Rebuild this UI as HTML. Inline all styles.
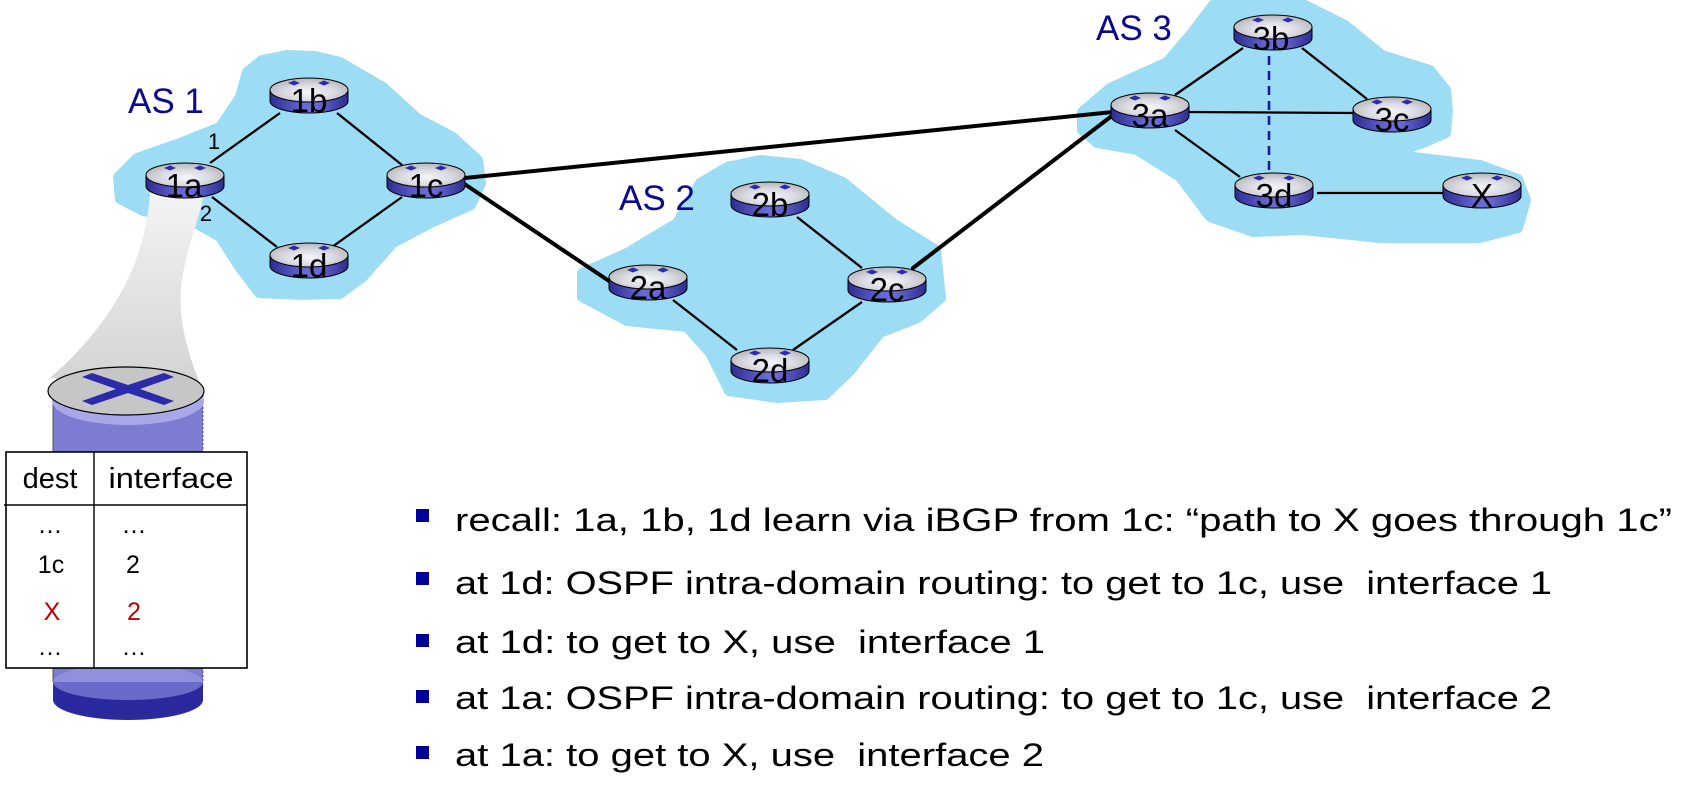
<!DOCTYPE html>
<html>
<head>
<meta charset="utf-8">
<style>
  html,body{margin:0;padding:0;background:#fff;}
  svg{display:block;}
  .lbl{font-family:"Liberation Sans",Arial,sans-serif;font-size:33px;fill:#000;text-anchor:middle;}
  .as{font-family:"Liberation Sans",Arial,sans-serif;font-size:35px;fill:#0a0a8a;}
  .bt{font-family:"Liberation Sans",Arial,sans-serif;font-size:32px;fill:#000;white-space:pre;}
  .tb{font-family:"Liberation Sans",Arial,sans-serif;font-size:29px;fill:#000;text-anchor:middle;}
  .tr{font-family:"Liberation Sans",Arial,sans-serif;font-size:25px;text-anchor:middle;}
</style>
</head>
<body>
<svg width="1691" height="786" viewBox="0 0 1691 786" xmlns="http://www.w3.org/2000/svg">
  <defs>
    <linearGradient id="side" x1="0" y1="0" x2="1" y2="0">
      <stop offset="0" stop-color="#2c2c92"/>
      <stop offset="0.45" stop-color="#6a6ad6"/>
      <stop offset="0.6" stop-color="#6a6ad6"/>
      <stop offset="1" stop-color="#2c2c92"/>
    </linearGradient>
    <radialGradient id="topg" cx="0.5" cy="0.6" r="0.6">
      <stop offset="0" stop-color="#f4f4fa"/>
      <stop offset="0.5" stop-color="#dcdce4"/>
      <stop offset="1" stop-color="#b4b4b8"/>
    </radialGradient>
    <linearGradient id="spot" x1="0" y1="0" x2="0" y2="1">
      <stop offset="0" stop-color="#f4f4f4"/>
      <stop offset="1" stop-color="#d2d2d2"/>
    </linearGradient>
    <linearGradient id="bdisc" x1="0" y1="0" x2="0" y2="1">
      <stop offset="0" stop-color="#9090dc"/>
      <stop offset="0.5" stop-color="#9090dc"/>
      <stop offset="0.5" stop-color="#6a6acb"/>
      <stop offset="1" stop-color="#6a6acb"/>
    </linearGradient>
    <g id="router">
      <path d="M-39,12 L-39,23 A39,12 0 0 0 39,23 L39,12 Z" fill="url(#side)" stroke="#000" stroke-width="1"/>
      <ellipse cx="0" cy="12" rx="39" ry="12" fill="url(#topg)" stroke="#000" stroke-width="1"/>
      <polygon points="-21,5 -15,2.5 -9,5 -15,7.5" fill="#2a2ab0"/>
      <polygon points="9,5 15,2.5 21,5 15,7.5" fill="#2a2ab0"/>
    </g>
  </defs>

  <rect width="1691" height="786" fill="#fff"/>

  <!-- clouds -->
  <g fill="#9cdcf4" stroke="#9cdcf4" stroke-width="10" stroke-linejoin="round">
    <polygon points="247,72 262,60 287,55 315,56 340,62 383,87 417,118 453,137 478,160 481,183 471,205 433,222 393,243 363,277 340,294 300,295 259,293 240,268 220,237 190,220 143,211 120,199 118,177 137,158 180,143 220,127 240,97"/>
    <polygon points="727,167 760,160 800,164 843,182 893,223 936,250 941,298 918,318 880,333 850,371 825,395 777,398 729,391 710,353 687,327 627,321 582,297 582,273 627,253 677,223 700,183"/>
    <polygon points="1082,112 1110,88 1167,62 1190,35 1213,5 1260,2 1303,4 1345,25 1382,55 1430,70 1446,90 1448,110 1446,133 1423,143 1400,151 1413,157 1480,165 1518,179 1526,200 1518,228 1480,238 1420,238 1380,238 1303,230 1253,232 1210,217 1180,177 1137,150 1097,143 1082,130"/>
  </g>

  <!-- spotlight -->
  <path d="M150,192 C147,245 126,312 50,378 L204,393 C190,360 176,320 182,280 C188,240 200,220 204,192 Z" fill="url(#spot)"/>

  <!-- thick inter-AS links -->
  <g stroke="#000" stroke-width="4" stroke-linecap="round" fill="none">
    <line x1="465" y1="178" x2="1113" y2="112"/>
    <line x1="463" y1="183" x2="612" y2="283"/>
    <line x1="913" y1="268" x2="1113" y2="115"/>
  </g>

  <!-- thin intra-AS links -->
  <g stroke="#000" stroke-width="2.3" fill="none">
    <line x1="210" y1="163" x2="280" y2="113"/>
    <line x1="337" y1="113" x2="402" y2="165"/>
    <line x1="212" y1="197" x2="277" y2="247"/>
    <line x1="332" y1="247" x2="402" y2="197"/>
    <line x1="673" y1="300" x2="737" y2="350"/>
    <line x1="797" y1="217" x2="862" y2="268"/>
    <line x1="862" y1="302" x2="793" y2="350"/>
    <line x1="1175" y1="95" x2="1243" y2="48"/>
    <line x1="1189" y1="112" x2="1353" y2="113"/>
    <line x1="1175" y1="130" x2="1240" y2="177"/>
    <line x1="1302" y1="48" x2="1367" y2="99"/>
    <line x1="1317" y1="193" x2="1443" y2="193"/>
  </g>
  <line x1="1269" y1="56" x2="1269" y2="170" stroke="#1a1aa0" stroke-width="2.6" stroke-dasharray="9,6"/>

  <!-- routers -->
  <use href="#router" transform="translate(185,163)"/>
  <use href="#router" transform="translate(309,78)"/>
  <use href="#router" transform="translate(426,163)"/>
  <use href="#router" transform="translate(309,243)"/>
  <use href="#router" transform="translate(648,265)"/>
  <use href="#router" transform="translate(770,182)"/>
  <use href="#router" transform="translate(887,267)"/>
  <use href="#router" transform="translate(770,348)"/>
  <use href="#router" transform="translate(1150,93)"/>
  <use href="#router" transform="translate(1273,15)"/>
  <use href="#router" transform="translate(1392,97)"/>
  <use href="#router" transform="translate(1274,173)"/>
  <use href="#router" transform="translate(1482,173)"/>

  <!-- router labels -->
  <text class="lbl" x="184" y="197">1a</text>
  <text class="lbl" x="309" y="112">1b</text>
  <text class="lbl" x="426" y="197">1c</text>
  <text class="lbl" x="309" y="277">1d</text>
  <text class="lbl" x="648" y="299">2a</text>
  <text class="lbl" x="770" y="216">2b</text>
  <text class="lbl" x="887" y="301">2c</text>
  <text class="lbl" x="770" y="382">2d</text>
  <text class="lbl" x="1150" y="127">3a</text>
  <text class="lbl" x="1271" y="50">3b</text>
  <text class="lbl" x="1392" y="131">3c</text>
  <text class="lbl" x="1274" y="207">3d</text>
  <text class="lbl" x="1482" y="207">X</text>

  <!-- AS labels -->
  <text class="as" x="128" y="113">AS 1</text>
  <text class="as" x="619" y="210">AS 2</text>
  <text class="as" x="1096" y="40">AS 3</text>

  <!-- interface labels -->
  <text x="214" y="149" font-family="Liberation Sans, Arial, sans-serif" font-size="22" text-anchor="middle">1</text>
  <text x="206" y="221" font-family="Liberation Sans, Arial, sans-serif" font-size="22" text-anchor="middle">2</text>

  <!-- big router -->
  <rect x="53" y="391" width="150" height="291" fill="#7c7cd2"/>
  <line x1="53" y1="391" x2="53" y2="682" stroke="#555" stroke-width="1"/>
  <line x1="203" y1="391" x2="203" y2="682" stroke="#555" stroke-width="1" stroke-dasharray="2,2"/>
  <ellipse cx="128" cy="401" rx="76" ry="24" fill="#a8a8e8"/>
  <ellipse cx="126" cy="391" rx="78" ry="24" fill="#c6c6c6" stroke="#000" stroke-width="1.2"/>
  <polygon points="82,377 92,373 128,385 164,373 174,377 140,389 174,401 164,405 128,393 92,405 82,401 116,389" fill="#2a2aaa"/>
  <path d="M53,682 L53,700 A75,20 0 0 0 203,700 L203,682 Z" fill="#2a2a9e"/>
  <ellipse cx="128" cy="682" rx="75" ry="18" fill="url(#bdisc)"/>

  <!-- table -->
  <rect x="6" y="452" width="241" height="216" fill="#fff" stroke="#000" stroke-width="1.6"/>
  <line x1="4" y1="505" x2="247" y2="505" stroke="#000" stroke-width="1.4"/>
  <line x1="94" y1="452" x2="94" y2="668" stroke="#000" stroke-width="1.4"/>
  <text class="tb" x="50" y="488">dest</text>
  <text class="tb" x="171" y="488" textLength="125" lengthAdjust="spacingAndGlyphs">interface</text>
  <text class="tr" x="50" y="533" fill="#000">…</text>
  <text class="tr" x="134" y="533" fill="#000">…</text>
  <text class="tr" x="51" y="573" fill="#000">1c</text>
  <text class="tr" x="133" y="573" fill="#000">2</text>
  <text class="tr" x="52" y="620" fill="#c00000">X</text>
  <text class="tr" x="134" y="620" fill="#c00000">2</text>
  <text class="tr" x="50" y="655" fill="#000">…</text>
  <text class="tr" x="134" y="655" fill="#000">…</text>

  <!-- bullets -->
  <g fill="#000099">
    <rect x="416" y="509" width="13" height="13"/>
    <rect x="416" y="572" width="13" height="13"/>
    <rect x="416" y="634" width="13" height="13"/>
    <rect x="416" y="690" width="13" height="13"/>
    <rect x="416" y="746" width="13" height="13"/>
  </g>
  <text class="bt" x="455" y="531" textLength="1217" lengthAdjust="spacingAndGlyphs">recall: 1a, 1b, 1d learn via iBGP from 1c: “path to X goes through 1c”</text>
  <text class="bt" x="455" y="594" textLength="1097" lengthAdjust="spacingAndGlyphs">at 1d: OSPF intra-domain routing: to get to 1c, use  interface 1</text>
  <text class="bt" x="455" y="653" textLength="590" lengthAdjust="spacingAndGlyphs">at 1d: to get to X, use  interface 1</text>
  <text class="bt" x="455" y="709" textLength="1097" lengthAdjust="spacingAndGlyphs">at 1a: OSPF intra-domain routing: to get to 1c, use  interface 2</text>
  <text class="bt" x="455" y="766" textLength="589" lengthAdjust="spacingAndGlyphs">at 1a: to get to X, use  interface 2</text>
</svg>
</body>
</html>
